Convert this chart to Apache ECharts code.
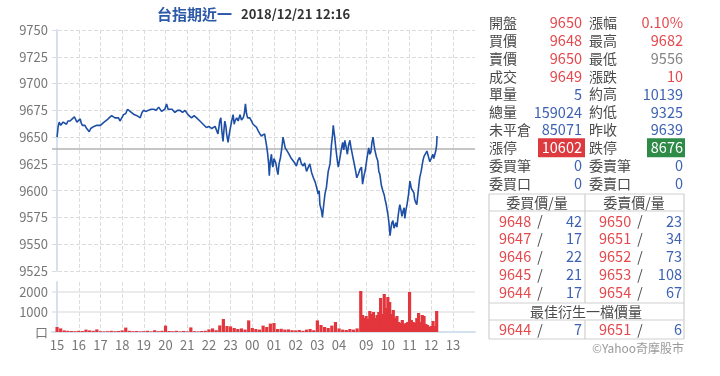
<!DOCTYPE html>
<html>
<head>
<meta charset="utf-8">
<title>台指期近一</title>
<script src="https://cdn.jsdelivr.net/npm/echarts@6/dist/echarts.min.js"></script>
<style>
html, body { margin: 0; padding: 0; background: #fff; }
#main { width: 720px; height: 376px; }
</style>
</head>
<body>
<div id="main"></div>
<script>
// 走勢 (時間, 價格)
var priceTimes = ['15:00','15:03','15:06','15:10','15:13','15:17','15:22','15:26','15:30','15:36','15:42','15:48','15:52','15:55',
    '16:00','16:04','16:07','16:10','16:14','16:17','16:22','16:26','16:29','16:33','16:36','16:42','16:46','16:50','16:55',
    '17:00','17:04','17:10','17:14','17:18','17:24','17:31','17:35','17:40','17:45','17:50','17:54','17:59',
    '18:04','18:10','18:15','18:18','18:22','18:27','18:33','18:37','18:41','18:46','18:50','18:55','18:59',
    '19:05','19:13','19:20','19:27','19:34','19:41','19:44','19:49','19:53','19:58',
    '20:03','20:07','20:12','20:18','20:26','20:33','20:40','20:47','20:54',
    '21:00','21:05','21:12','21:19','21:26','21:31','21:35','21:40','21:44','21:49','21:53',
    '22:00','22:03','22:08','22:12','22:17','22:21','22:25','22:28','22:30','22:33','22:36','22:39','22:42','22:44','22:47','22:49','22:53','22:56','22:58',
    '23:03','23:07','23:10','23:12','23:17','23:21','23:26','23:30','23:35','23:38','23:41','23:44','23:47','23:53','23:58',
    '00:02','00:07','00:12','00:16','00:21','00:25','00:30','00:34','00:39','00:42','00:45','00:47','00:50','00:53','00:55','00:57',
    '01:00','01:02','01:05','01:08','01:11','01:14','01:18','01:21','01:25','01:28','01:31','01:35','01:40','01:44','01:48','01:53','01:57',
    '02:02','02:06','02:11','02:16','02:21','02:25','02:30','02:35','02:39','02:44','02:49','02:54','02:58',
    '03:02','03:05','03:07','03:11','03:14','03:17','03:21','03:25','03:30','03:35','03:39','03:42','03:44','03:46','03:48','03:51','03:53','03:56','03:58',
    '04:02','04:05','04:07','04:10','04:13','04:16','04:20','04:23','04:26','04:30','04:33','04:35','04:39','04:42','04:46','04:49','04:54','04:58',
    '08:47','08:50','08:54','08:58','09:02','09:07','09:10','09:13','09:16','09:19','09:22','09:24','09:28','09:32','09:35','09:38','09:42','09:46','09:50','09:52','09:55','09:57',
    '10:00','10:03','10:06','10:09','10:11','10:14','10:17','10:19','10:22','10:25','10:29','10:33','10:36','10:39','10:42','10:45','10:47','10:50','10:53','10:57',
    '11:01','11:05','11:09','11:12','11:14','11:17','11:20','11:24','11:28','11:32','11:37','11:40','11:42','11:45','11:48','11:52','11:56',
    '12:00','12:04','12:07','12:10','12:13','12:15','12:16'];
var prices = [9650,9660,9664,9661,9662,9664,9664,9662,9665,9665,9667,9669,9666,9664,
    9665,9667,9663,9661,9662,9661,9658,9657,9655,9658,9659,9660,9659,9661,9662,
    9661,9662,9664,9664,9666,9668,9670,9671,9668,9667,9668,9665,9668,
    9671,9672,9676,9676,9674,9673,9671,9670,9670,9669,9668,9673,9675,
    9674,9675,9676,9676,9675,9678,9677,9674,9675,9676,
    9681,9676,9675,9676,9673,9675,9675,9673,9675,
    9672,9670,9668,9670,9668,9667,9665,9664,9662,9663,9659,
    9660,9660,9658,9657,9660,9659,9653,9660,9665,9668,9655,9646,9658,9665,9660,9653,9645,9652,9656,
    9665,9671,9662,9665,9668,9665,9671,9666,9668,9672,9681,9672,9668,9668,9665,
    9662,9663,9659,9656,9653,9651,9650,9653,9643,9636,9626,9614,9628,9634,9625,9622,
    9630,9631,9626,9620,9615,9625,9631,9638,9650,9645,9640,9641,9635,9636,9630,9631,9626,
    9623,9628,9631,9625,9623,9626,9618,9622,9625,9617,9612,9608,9603,
    9597,9600,9587,9582,9575,9585,9597,9603,9618,9625,9643,9652,9661,9655,9650,9640,9634,9626,9622,
    9630,9636,9640,9645,9638,9647,9640,9634,9642,9647,9640,9637,9630,9625,9618,9612,9616,9620,
    9622,9606,9614,9620,9630,9640,9634,9636,9645,9650,9642,9638,9632,9628,9618,9615,9605,9600,9596,9592,9588,9584,
    9578,9570,9558,9566,9570,9572,9565,9564,9570,9566,9578,9587,9582,9576,9581,9584,9574,9582,9587,9596,
    9609,9602,9601,9598,9592,9589,9587,9600,9612,9618,9628,9632,9631,9635,9637,9632,9627,
    9630,9634,9630,9630,9638,9643,9651];
var prevClose = 9639;

// 成交量 (夜盤每10分, 日盤每5分)
var volTimes = ['15:00','15:10','15:20','15:30','15:40','15:50','16:00','16:10','16:20','16:30','16:40','16:50',
    '17:00','17:10','17:20','17:30','17:40','17:50','18:00','18:10','18:20','18:30','18:40','18:50',
    '19:00','19:10','19:20','19:30','19:40','19:50','20:00','20:10','20:20','20:30','20:40','20:50',
    '21:00','21:10','21:20','21:30','21:40','21:50','22:00','22:10','22:20','22:30','22:40','22:50',
    '23:00','23:10','23:20','23:30','23:40','23:50','00:00','00:10','00:20','00:30','00:40','00:50',
    '01:00','01:10','01:20','01:30','01:40','01:50','02:00','02:10','02:20','02:30','02:40','02:50',
    '03:00','03:10','03:20','03:30','03:40','03:50','04:00','04:10','04:20','04:30','04:40','04:50',
    '08:45','08:50','08:55','09:00','09:05','09:10','09:15','09:20','09:25','09:30','09:35','09:40','09:45','09:50','09:55',
    '10:00','10:05','10:10','10:15','10:20','10:25','10:30','10:35','10:40','10:45','10:50','10:55',
    '11:00','11:05','11:10','11:15','11:20','11:25','11:30','11:35','11:40','11:45','11:50','11:55',
    '12:00','12:05','12:10','12:15'];
var vols = [250,180,80,60,50,40,60,50,120,80,60,130,
    40,30,40,60,40,50,80,220,60,40,50,30,
    40,60,30,90,40,60,320,50,40,60,30,50,
    30,230,40,30,50,60,130,180,90,330,650,300,
    280,200,150,180,120,580,200,150,120,320,250,420,
    450,150,160,120,130,90,80,100,60,120,150,90,
    580,350,250,200,320,500,180,120,100,150,120,180,
    2050,850,700,800,650,1050,900,1000,700,850,1000,1700,900,1900,1200,
    1750,1500,900,1100,700,800,500,450,600,400,450,500,
    2000,600,500,450,700,950,500,850,800,400,350,250,
    300,550,300,1050];

// 時間刻度
var tickTimes = ['15:00','16:00','17:00','18:00','19:00','20:00','21:00','22:00','23:00','00:00','01:00','02:00','03:00','04:00',
    '09:00','10:00','11:00','12:00','13:00'];
var tickLabels = ['15','16','17','18','19','20','21','22','23','00','01','02','03','04','09','10','11','12','13'];

// 右側報價
var leftLabels = ['開盤','買價','賣價','成交','單量','總量','未平倉','漲停','委買筆','委買口'];
var leftValues = ['9650','9648','9650','9649','5','159024','85071','10602','0','0'];
var rightLabels = ['漲幅','最高','最低','漲跌','約高','約低','昨收','跌停','委賣筆','委賣口'];
var rightValues = ['0.10%','9682','9556','10','10139','9325','9639','8676','0','0'];

// 五檔
var bidPrices = [9648,9647,9646,9645,9644];
var bidQty = [42,17,22,21,17];
var askPrices = [9650,9651,9652,9653,9654];
var askQty = [23,34,73,108,67];
var bestBid = [9644, 7];
var bestAsk = [9651, 6];

var RED = '#e5484d', BLUE = '#3d62b3', GREY = '#858585', LABEL = '#4a4a4a';
var leftColors = [RED, RED, RED, RED, BLUE, BLUE, BLUE, '#fff', BLUE, BLUE];
var rightColors = [RED, RED, GREY, RED, BLUE, BLUE, BLUE, '#fff', BLUE, BLUE];
var FONT = '"Noto Sans CJK TC", "Noto Sans", sans-serif';

// 交易時間換成分鐘 (夜盤 15:00-05:00, 日盤 08:45 接續)
function tradeMin(t) {
    var p = t.split(':');
    var h = +p[0], m = +p[1];
    if (h >= 15) return (h - 15) * 60 + m;
    if (h < 5 || (h === 5 && m === 0)) return (h + 9) * 60 + m;
    return 840 + (h * 60 + m - 525);
}

var tickVals = tickTimes.map(tradeMin);
function tickFmt(v) {
    var i = tickVals.indexOf(v);
    return i >= 0 ? tickLabels[i] : '';
}

var priceData = priceTimes.map(function (t, i) { return [tradeMin(t), prices[i]]; });
var volData = volTimes.map(function (t, i) { return [tradeMin(t), vols[i]]; });

function txt(x, y, s, color, size, align, weight) {
    return {
        type: 'text', x: x, y: y, silent: true,
        style: {
            text: s, fill: color,
            font: (weight || 'normal') + ' ' + size + 'px ' + FONT,
            align: align || 'left', textAlign: align || 'left',
            verticalAlign: 'middle', textVerticalAlign: 'middle'
        }
    };
}
function ln(x1, y1, x2, y2) {
    return { type: 'line', silent: true, shape: { x1: x1, y1: y1, x2: x2, y2: y2 },
        style: { stroke: '#cfcfcf', lineWidth: 1.2 } };
}
function box(x, y, w, h, color) {
    return { type: 'rect', silent: true, shape: { x: x, y: y, width: w, height: h }, style: { fill: color } };
}

function buildPanel() {
    var els = [];
    // 標題
    els.push(txt(157, 14, '台指期近一', '#2c59a8', 15, 'left', 'bold'));
    els.push(txt(241, 14, '2018/12/21 12:16', '#333', 13, 'left', 'bold'));

    for (var i = 0; i < leftLabels.length; i++) {
        var y = 22.5 + i * 17.9;
        if (leftLabels[i] === '漲停') els.push(box(538, y - 9.5, 47, 19, '#dc3a3f'));
        if (rightLabels[i] === '跌停') els.push(box(647, y - 9.5, 38, 19, '#2e8b47'));
        els.push(txt(489, y, leftLabels[i], LABEL, 14));
        els.push(txt(582, y, leftValues[i], leftColors[i], 14.5, 'right'));
        els.push(txt(589, y, rightLabels[i], LABEL, 14));
        els.push(txt(683, y, rightValues[i], rightColors[i], 14.5, 'right'));
    }

    // 五檔表格
    var top = 194, bot = 339;
    els.push(ln(489, top, 684, top), ln(489, bot, 684, bot), ln(489, top, 489, bot), ln(684, top, 684, bot));
    els.push(ln(489, 211, 684, 211), ln(489, 303, 684, 303), ln(489, 320, 684, 320));
    els.push(ln(585, top, 585, 303), ln(585, 320, 585, bot));
    els.push(txt(537, 202.5, '委買價/量', LABEL, 14, 'center'));
    els.push(txt(634, 202.5, '委賣價/量', LABEL, 14, 'center'));
    for (var k = 0; k < bidPrices.length; k++) {
        var ry = 221 + k * 17.8;
        els.push(txt(499, ry, String(bidPrices[k]), RED, 14.5));
        els.push(txt(540, ry, '/', LABEL, 14, 'center'));
        els.push(txt(582, ry, String(bidQty[k]), BLUE, 14.5, 'right'));
        els.push(txt(599, ry, String(askPrices[k]), RED, 14.5));
        els.push(txt(640, ry, '/', LABEL, 14, 'center'));
        els.push(txt(682, ry, String(askQty[k]), BLUE, 14.5, 'right'));
    }
    els.push(txt(586, 311.5, '最佳衍生一檔價量', LABEL, 14, 'center'));
    els.push(txt(499, 329.5, String(bestBid[0]), RED, 14.5));
    els.push(txt(540, 329.5, '/', LABEL, 14, 'center'));
    els.push(txt(582, 329.5, String(bestBid[1]), BLUE, 14.5, 'right'));
    els.push(txt(599, 329.5, String(bestAsk[0]), RED, 14.5));
    els.push(txt(640, 329.5, '/', LABEL, 14, 'center'));
    els.push(txt(682, 329.5, String(bestAsk[1]), BLUE, 14.5, 'right'));
    els.push(txt(684, 348, '©Yahoo奇摩股市', '#9a9a9a', 12, 'right'));
    return els;
}

var myChart = echarts.init(document.getElementById('main'));
var gridLine = { show: true, lineStyle: { color: '#dcdcdc', type: 'dashed', width: 1 } };
var option = {
    animation: false,
    textStyle: { fontFamily: FONT },
    grid: [
        { left: 52, right: 245, top: 30, height: 241 },
        { left: 52, right: 245, top: 282, height: 50 }
    ],
    xAxis: [
        { type: 'value', gridIndex: 0, min: -14, max: 1156,
          axisLine: { show: false }, axisTick: { show: false, customValues: tickVals },
          axisLabel: { show: false, customValues: tickVals }, splitLine: gridLine },
        { type: 'value', gridIndex: 1, min: -14, max: 1156,
          axisLine: { show: true, lineStyle: { color: '#d4e2ef', width: 2 } },
          axisTick: { show: false, customValues: tickVals },
          axisLabel: { customValues: tickVals, formatter: tickFmt, color: '#777', fontSize: 13, margin: 7 },
          splitLine: gridLine }
    ],
    yAxis: [
        { type: 'value', gridIndex: 0, min: 9525, max: 9750, interval: 25,
          axisLine: { show: true, lineStyle: { color: '#d4e2ef', width: 2 } }, axisTick: { show: false },
          axisLabel: { color: '#777', fontSize: 13, margin: 4, formatter: function (v) { return String(v); } },
          splitLine: gridLine },
        { type: 'value', gridIndex: 1, min: 0, max: 2500, interval: 1000,
          axisLine: { show: true, lineStyle: { color: '#d4e2ef', width: 2 } }, axisTick: { show: false },
          axisLabel: { color: '#777', fontSize: 13, margin: 4, showMaxLabel: false,
              formatter: function (v) { return v === 0 ? '口' : (v % 1000 === 0 ? String(v) : ''); } },
          splitLine: { show: true, showMaxLine: false, lineStyle: { color: '#e4e4e4', width: 1.5 } } }
    ],
    graphic: { elements: buildPanel() },
    series: [
        {
            name: '台指期', type: 'line', xAxisIndex: 0, yAxisIndex: 0,
            data: priceData, showSymbol: false, silent: true,
            lineStyle: { color: '#1d4fa6', width: 1.6 },
            markLine: {
                silent: true, symbol: 'none', label: { show: false },
                lineStyle: { color: '#b3b3b3', type: 'solid', width: 1.5 },
                data: [{ yAxis: prevClose }]
            },
            z: 5
        },
        {
            name: '成交量', type: 'bar', xAxisIndex: 1, yAxisIndex: 1,
            data: volData, barWidth: 3.2, silent: true,
            itemStyle: { color: '#e3353c' }
        }
    ]
};
myChart.setOption(option);
window.addEventListener('resize', function () { myChart.resize(); });
</script>
</body>
</html>
